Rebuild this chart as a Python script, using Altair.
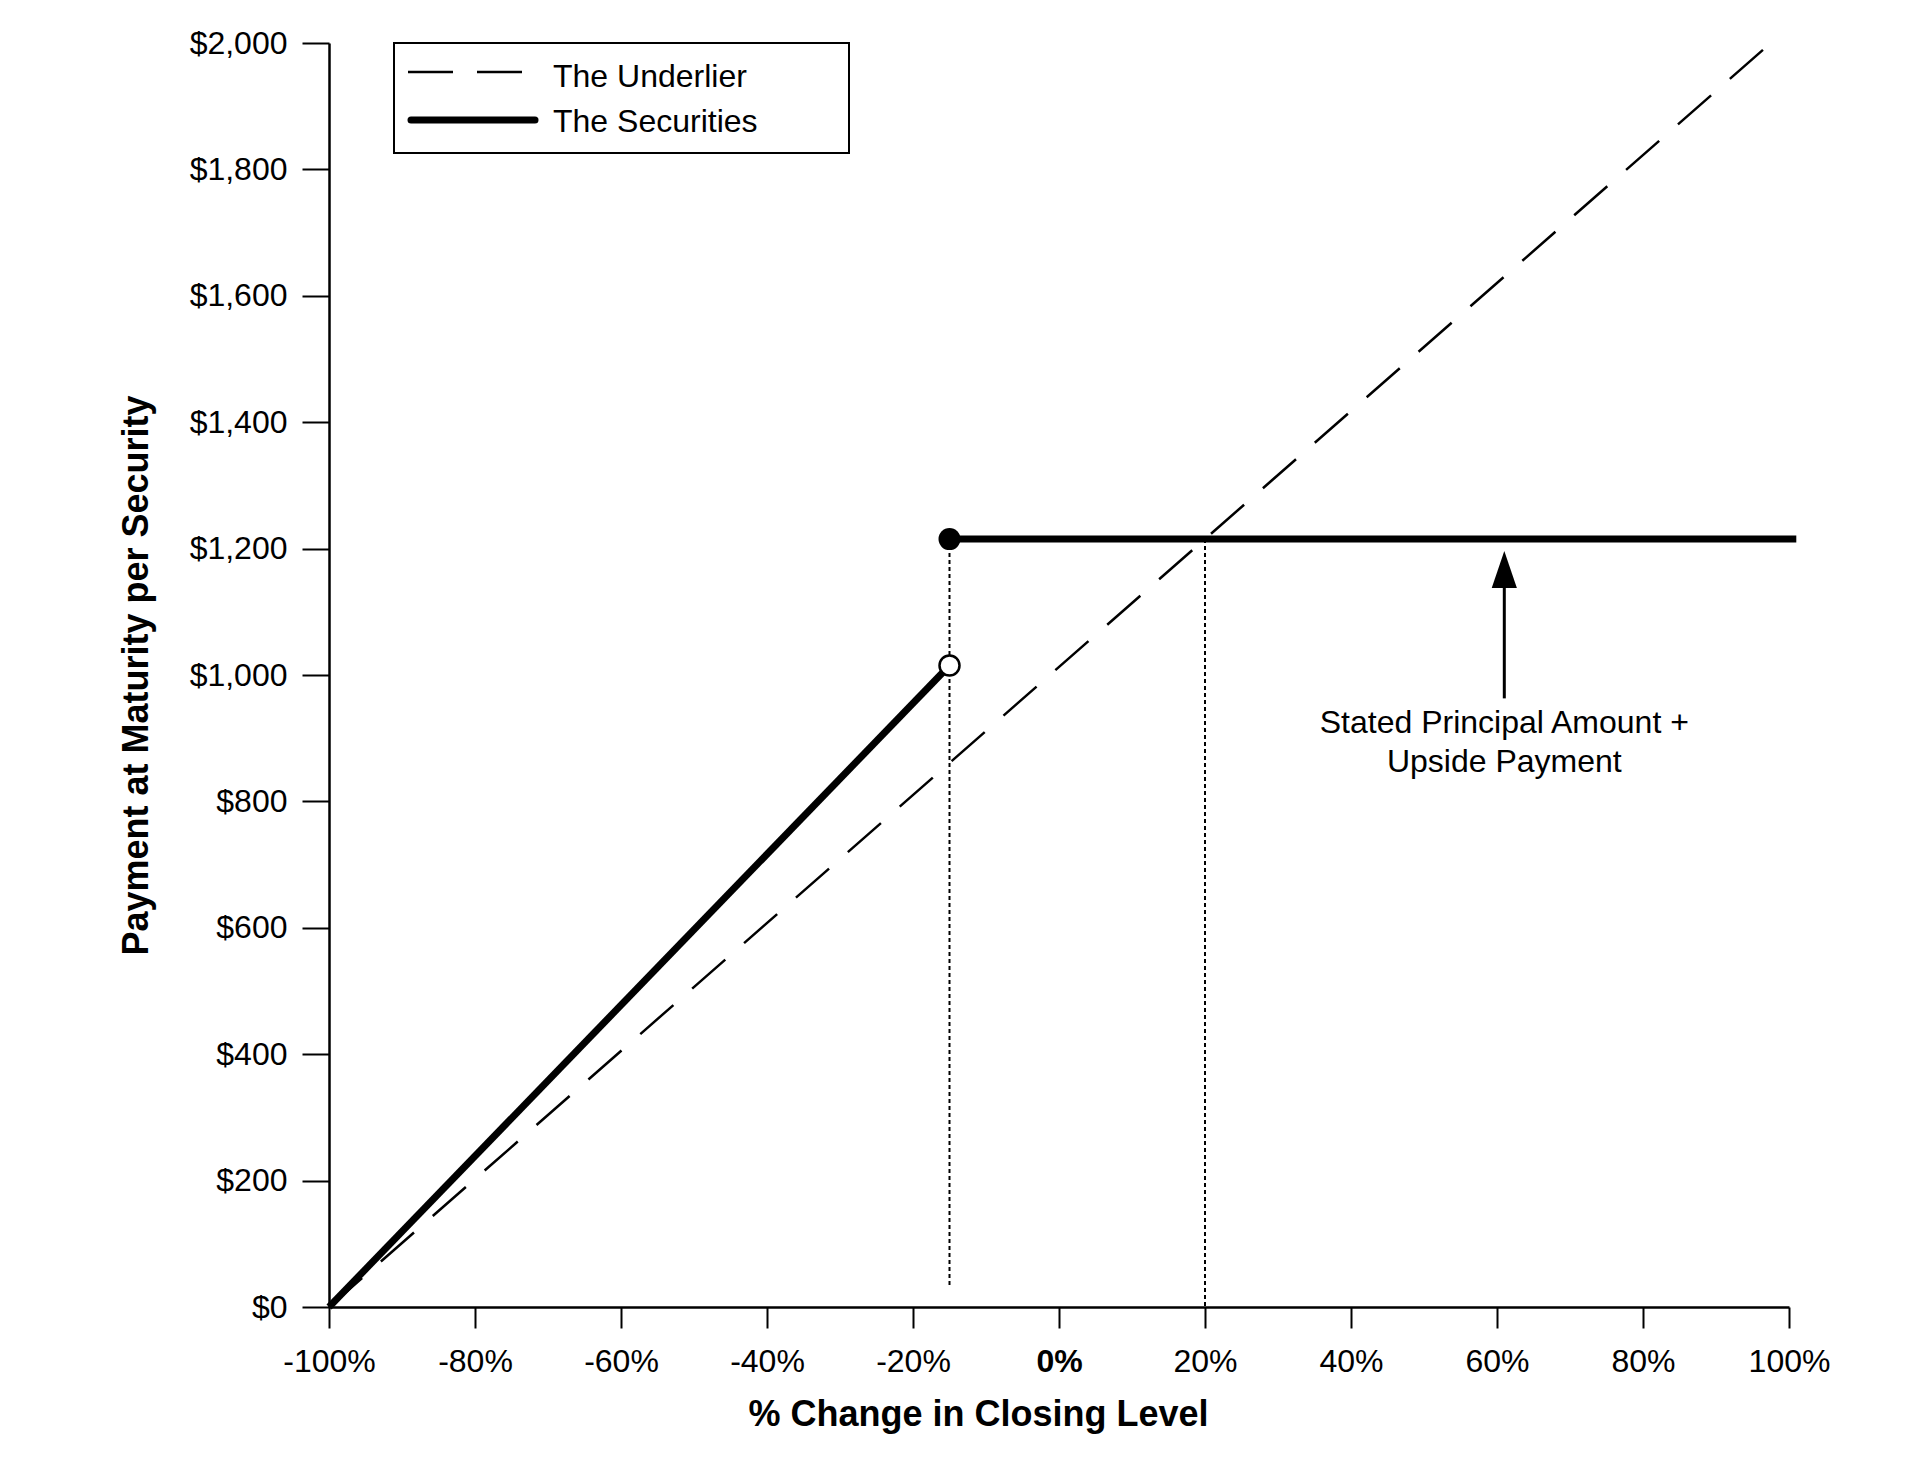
import altair as alt
import pandas as pd

FONT = "Liberation Sans"

# ---- data ----
x_ticks = [-100, -80, -60, -40, -20, 0, 20, 40, 60, 80, 100]
y_ticks = [0, 200, 400, 600, 800, 1000, 1200, 1400, 1600, 1800, 2000]

underlier_x = [-100, 97.5]
underlier_y = [0, 2000]

sec_low_x = [-100, -15]
sec_low_y = [0, 1015]

sec_high_x = [-15, 101]
sec_high_y = [1215, 1215]

filled_pt_x = [-15]
filled_pt_y = [1215]
open_pt_x = [-15]
open_pt_y = [1015]

dotted_x = [-15, 20]
dotted_top = [1215, 1215]
dotted_bottom = [30, 0]

arrow_x = [61]
arrow_tail = [963]
arrow_neck = [1145]
arrow_head_center = [1167]

note_lines = ["Stated Principal Amount +", "Upside Payment"]
note_x = [61, 61]
note_y = [908, 846]

legend_labels = ["The Underlier", "The Securities"]

# ---- scales & axes ----
xs = alt.Scale(domain=[-100, 100], nice=False, zero=False)
ys = alt.Scale(domain=[0, 2000], nice=False, zero=False)

xaxis = alt.Axis(
    values=x_ticks, labelExpr="datum.value + '%'",
    title="% Change in Closing Level", titleFontSize=36, titleFontWeight="bold",
    titleColor="black", titleX=649, titleY=118, titleAlign="center",
    titleBaseline="alphabetic", titleAngle=0,
    tickSize=21, tickWidth=2, tickColor="black",
    domainColor="black", domainWidth=2.5,
    labelFontSize=32, labelColor="black", labelPadding=18,
    labelFontWeight={"condition": {"test": "datum.value === 0", "value": "bold"}, "value": "normal"},
    labelFlush=False, labelOverlap=False, grid=False,
)
yaxis = alt.Axis(
    values=y_ticks, format="$,.0f",
    title="Payment at Maturity per Security", titleFontSize=36, titleFontWeight="bold",
    titleColor="black", titleX=-182, titleY=632, titleAlign="center",
    titleBaseline="alphabetic", titleAngle=270,
    tickSize=27, tickWidth=2, tickColor="black",
    domainColor="black", domainWidth=2.5,
    labelFontSize=32, labelColor="black", labelPadding=15,
    labelFlush=False, labelOverlap=False, grid=False,
)


def X(f):
    return alt.X(f, type="quantitative", scale=xs, axis=xaxis)


def Y(f):
    return alt.Y(f, type="quantitative", scale=ys, axis=yaxis)


underlier = alt.Chart(pd.DataFrame({"x": underlier_x, "y": underlier_y})).mark_line(
    color="black", strokeWidth=2.5, strokeDash=[44, 25]
).encode(x=X("x"), y=Y("y"))

sec_low = alt.Chart(pd.DataFrame({"x": sec_low_x, "y": sec_low_y})).mark_line(
    color="black", strokeWidth=7
).encode(x=X("x"), y=Y("y"))

sec_high = alt.Chart(pd.DataFrame({"x": sec_high_x, "y": sec_high_y})).mark_line(
    color="black", strokeWidth=7
).encode(x=X("x"), y=Y("y"))

dotted = alt.Chart(pd.DataFrame({"x": dotted_x, "top": dotted_top, "bottom": dotted_bottom})).mark_rule(
    color="black", strokeWidth=2, strokeDash=[4, 3]
).encode(x=X("x"), y=Y("top"), y2="bottom:Q")

filled_pt = alt.Chart(pd.DataFrame({"x": filled_pt_x, "y": filled_pt_y})).mark_point(
    shape="circle", filled=True, color="black", size=484, opacity=1
).encode(x=X("x"), y=Y("y"))

open_pt = alt.Chart(pd.DataFrame({"x": open_pt_x, "y": open_pt_y})).mark_point(
    shape="circle", filled=True, fill="white", stroke="black", strokeWidth=2.5, size=400, opacity=1
).encode(x=X("x"), y=Y("y"))

arrow_shaft = alt.Chart(pd.DataFrame({"x": arrow_x, "a": arrow_tail, "b": arrow_neck})).mark_rule(
    color="black", strokeWidth=3
).encode(x=X("x"), y=Y("a"), y2="b:Q")

arrow_head = alt.Chart(pd.DataFrame({"x": arrow_x, "y": arrow_head_center})).mark_point(
    shape="M0,-1L0.68,1L-0.68,1Z", filled=True, color="black", size=1369, opacity=1
).encode(x=X("x"), y=Y("y"))

note = alt.Chart(pd.DataFrame({"x": note_x, "y": note_y, "t": note_lines})).mark_text(
    font=FONT, fontSize=32, color="black", align="center", baseline="alphabetic"
).encode(x=X("x"), y=Y("y"), text="t:N")

one = pd.DataFrame({"a": [0]})
legend_box = alt.Chart(one).mark_rect(fill="white", stroke="black", strokeWidth=2).encode(
    x=alt.value(65), x2=alt.value(520), y=alt.value(0), y2=alt.value(110)
)
legend_dash = alt.Chart(one).mark_rule(color="black", strokeWidth=2.5, strokeDash=[45, 24]).encode(
    x=alt.value(79), x2=alt.value(194), y=alt.value(29)
)
legend_solid = alt.Chart(one).mark_rule(color="black", strokeWidth=7, strokeCap="round").encode(
    x=alt.value(82), x2=alt.value(206), y=alt.value(77)
)
legend_t1 = alt.Chart(pd.DataFrame({"t": [legend_labels[0]]})).mark_text(
    font=FONT, fontSize=32, color="black", align="left", baseline="alphabetic"
).encode(x=alt.value(224), y=alt.value(44), text="t:N")
legend_t2 = alt.Chart(pd.DataFrame({"t": [legend_labels[1]]})).mark_text(
    font=FONT, fontSize=32, color="black", align="left", baseline="alphabetic"
).encode(x=alt.value(224), y=alt.value(89), text="t:N")

chart = alt.layer(
    underlier, dotted, sec_low, sec_high, open_pt, filled_pt,
    arrow_shaft, arrow_head, note,
    legend_box, legend_dash, legend_solid, legend_t1, legend_t2,
).properties(
    width=1460, height=1264,
    autosize=alt.AutoSizeParams(type="none"),
    padding={"left": 321, "top": 35, "right": 100, "bottom": 130},
    background="white",
).configure(font=FONT).configure_view(strokeWidth=0)

chart.save("out.html", embed_options={"renderer": "svg", "actions": False})
